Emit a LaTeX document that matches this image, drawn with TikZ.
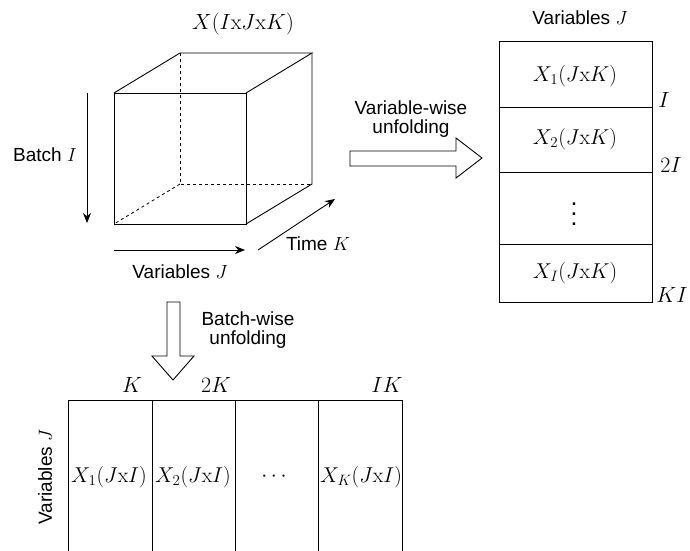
\documentclass[tikz,border=0pt]{standalone}
\usepackage{fix-cm}
\usepackage[no-math]{fontspec}
\setmainfont{Liberation Sans}
\usetikzlibrary{arrows.meta}
\begin{document}
\begin{tikzpicture}[x=1pt,y=-1pt,
  every node/.style={font=\fontsize{19}{19}\selectfont, inner sep=0pt},
  edge/.style={line width=0.9pt},
  hidden/.style={line width=0.8pt, dash pattern=on 3pt off 3pt},
  axis/.style={line width=0.9pt, -{Stealth[length=10pt,width=8pt]}},
  blockarrow/.style={line width=0.9pt, fill=white, line join=miter},
  mathlbl/.style={font=\fontsize{22}{24}\selectfont},
  celltxt/.style={font=\fontsize{21.5}{24}\selectfont},
  dotstxt/.style={font=\fontsize{10}{12}\selectfont, scale=2.5}]
\useasboundingbox (0,0) rectangle (690,550);
% ---- cube ----
\coordinate (fa) at (114,93);  \coordinate (fb) at (246,93);
\coordinate (fc) at (246,224); \coordinate (fd) at (114,224);
\coordinate (ba) at (180,53);  \coordinate (bb) at (312,53);
\coordinate (bc) at (312,184); \coordinate (bd) at (180,184);
\draw[hidden] (ba) -- (bd) -- (bc);
\draw[hidden] (bd) -- (fd);
\draw[edge, line join=miter] (fa) -- (fb) -- (fc) -- (fd) -- cycle;
\draw[edge, line join=miter] (fa) -- (ba) -- (bb) -- (fb);
\draw[edge, line join=miter] (bb) -- (bc) -- (fc);
\node[mathlbl] (title) at (243,24) {$X(I\mathrm{x}J\mathrm{x}K)$};
% axes
\coordinate (bi1) at (87,93); \coordinate (bi2) at (87,223);
\draw[axis] (bi1) -- (bi2);
\node (batch) at (45,155) {Batch $I$};
\coordinate (vj1) at (114,250); \coordinate (vj2) at (245,250);
\draw[axis] (vj1) -- (vj2);
\node (varj) at (180,272) {Variables $J$};
\coordinate (tk1) at (258,250); \coordinate (tk2) at (335,199);
\draw[axis] (tk1) -- (tk2);
\node (timek) at (318,244) {Time $K$};
% ---- right table ----
\draw[edge] (499,41) rectangle (652,302);
\draw[edge] (499,107) -- (652,107);
\draw[edge] (499,172) -- (652,172);
\draw[edge] (499,244) -- (652,244);
\node (rt) at (580,18) {Variables $J$};
\node[celltxt] (x1) at (575,76) {$X_1(J\mathrm{x}K)$};
\node[celltxt] (x2) at (575,139) {$X_2(J\mathrm{x}K)$};
\node[dotstxt] (xd) at (574,207) {$\vdots$};
\node[celltxt] (xi) at (575,273) {$X_I(J\mathrm{x}K)$};
\node[mathlbl] (li) at (664,100) {$I$};
\node[mathlbl] (l2i) at (671,165) {$2I$};
\node[mathlbl] (lki) at (672,295) {$KI$};
% variable-wise arrow
\draw[blockarrow] (350,151) -- (456,151) -- (456,138) -- (482,158) -- (456,178) -- (456,166) -- (350,166) -- cycle;
\node[align=center] (vw) at (411,119) {Variable-wise\\unfolding};
% ---- batch-wise arrow ----
\draw[blockarrow] (167,302) -- (180,302) -- (180,356) -- (194,356) -- (173,380) -- (152,356) -- (167,356) -- cycle;
\node[align=center] (bw) at (248,330) {Batch-wise\\unfolding};
% ---- bottom table ----
\draw[edge] (68,551) -- (68,400) -- (402,400) -- (402,551);
\draw[edge] (152,400) -- (152,551);
\draw[edge] (235,400) -- (235,551);
\draw[edge] (318,400) -- (318,551);
\node[mathlbl] (tk) at (132,385) {$K$};
\node[mathlbl] (t2k) at (216,385) {$2K$};
\node[mathlbl] (tik) at (387,385) {$IK$};
\node[celltxt] (y1) at (109,477) {$X_1(J\mathrm{x}I)$};
\node[celltxt] (y2) at (193,477) {$X_2(J\mathrm{x}I)$};
\node[celltxt] (yd) at (274,477) {$\cdots$};
\node[celltxt] (yk) at (361,477) {$X_K(J\mathrm{x}I)$};
\node[rotate=90] (vjl) at (45,477) {Variables $J$};
\end{tikzpicture}
\end{document}
